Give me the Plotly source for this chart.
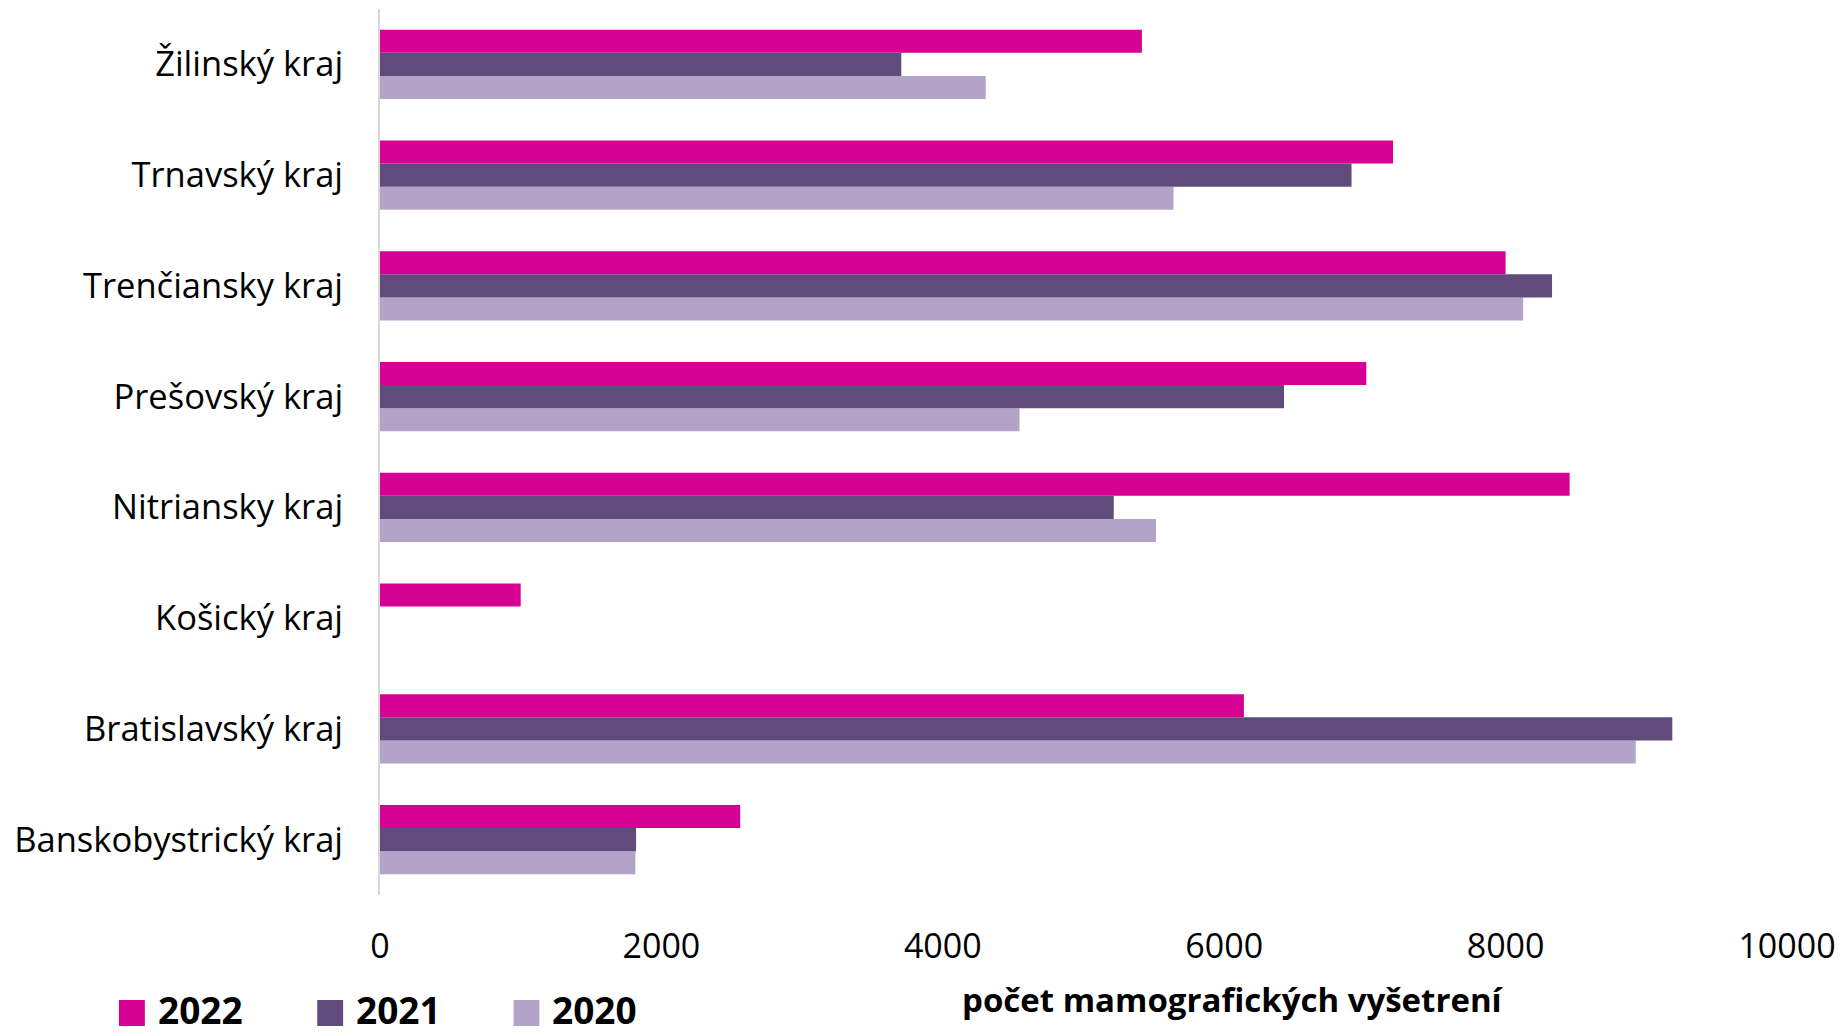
import plotly.graph_objects as go

categories = ["Banskobystrický kraj", "Bratislavský kraj", "Košický kraj", "Nitriansky kraj",
              "Prešovský kraj", "Trenčiansky kraj", "Trnavský kraj", "Žilinský kraj"]
values_2022 = [2560, 6140, 1000, 8455, 7010, 8000, 7200, 5415]
values_2021 = [1820, 9185, None, 5215, 6425, 8330, 6905, 3705]
values_2020 = [1815, 8925, None, 5515, 4545, 8125, 5640, 4305]
series_names = ["2022", "2021", "2020"]
colors = ["#D60093", "#604C7C", "#B3A3C8"]
x_ticks = [0, 2000, 4000, 6000, 8000, 10000]
x_title = "počet mamografických vyšetrení"

FONT = "'Open Sans', 'Noto Sans', sans-serif"
W, H = 1845, 1036
ML, MR, MT, MB = 380, 53, 9, 141
PW, PH = W - ML - MR, H - MT - MB

fig = go.Figure()
# trace order bottom-to-top within group: 2020, 2021, 2022
for name, vals, col in [(series_names[2], values_2020, colors[2]),
                        (series_names[1], values_2021, colors[1]),
                        (series_names[0], values_2022, colors[0])]:
    fig.add_trace(go.Bar(y=categories, x=vals, name=name, orientation="h",
                         marker=dict(color=col, line=dict(width=0)),
                         showlegend=False))

def px_x(p):
    return (p - ML) / PW

def px_y(p):
    return (H - MB - p) / PH

# custom legend
leg_x = [118, 317, 514]
shapes = []
annotations = []
for name, col, lx in zip(series_names, colors, leg_x):
    shapes.append(dict(type="rect", xref="paper", yref="paper",
                       x0=px_x(lx), x1=px_x(lx + 26), y0=px_y(1026), y1=px_y(1000),
                       fillcolor=col, line=dict(width=0)))
    annotations.append(dict(text="<b>%s</b>" % name, xref="paper", yref="paper",
                            x=px_x(lx + 37), y=px_y(1009), xanchor="left", yanchor="middle",
                            showarrow=False, font=dict(family=FONT, size=37, color="#000000")))

annotations.append(dict(text="<b>%s</b>" % x_title, xref="paper", yref="paper",
                        x=px_x(1236), y=px_y(999), xanchor="center", yanchor="middle",
                        showarrow=False, font=dict(family=FONT, size=33, color="#000000")))

fig.update_layout(
    width=W, height=H,
    margin=dict(l=ML, r=MR, t=MT, b=MB, pad=0),
    paper_bgcolor="white", plot_bgcolor="white",
    barmode="group", bargap=0.376, bargroupgap=0,
    shapes=shapes, annotations=annotations,
    xaxis=dict(range=[0, 10000], tickvals=x_ticks, ticktext=[str(t) for t in x_ticks],
               showgrid=False, zeroline=False, showline=False, ticks="",
               tickfont=dict(family=FONT, size=34, color="#000000"),
               ticklabelstandoff=28, fixedrange=True),
    yaxis=dict(type="category", categoryorder="array", categoryarray=categories,
               showgrid=False, zeroline=False, showline=True, linecolor="#D9D9D9", linewidth=2,
               ticks="", tickfont=dict(family=FONT, size=34.5, color="#000000"),
               ticklabelstandoff=28, fixedrange=True),
)

fig.write_html("out.html", config={"displayModeBar": False},
               post_script="document.body.style.margin='0';document.body.style.overflow='hidden';")
